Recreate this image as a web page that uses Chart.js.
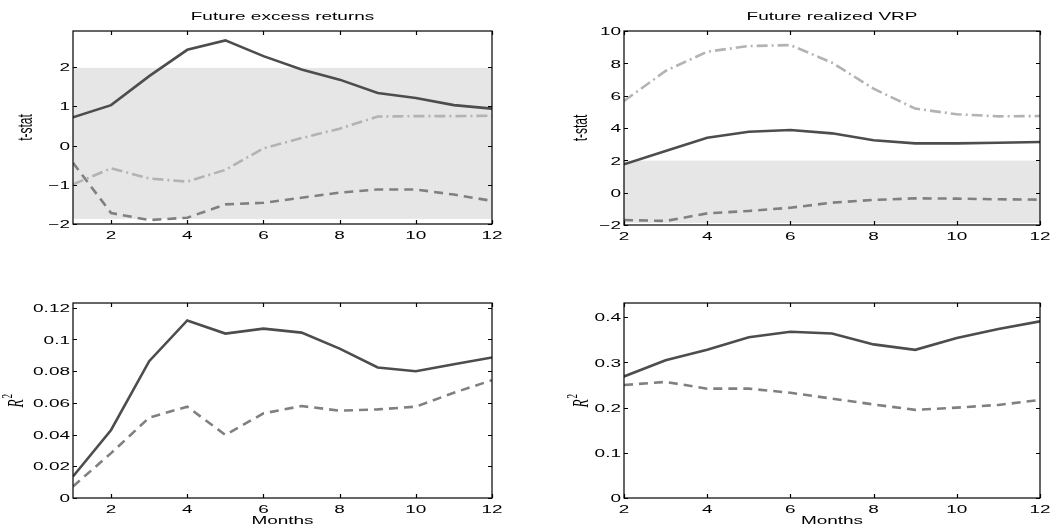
<!DOCTYPE html>
<html>
<head>
<meta charset="utf-8">
<script src="https://cdn.jsdelivr.net/npm/chart.js@4/dist/chart.umd.min.js"></script>
<style>
  html, body { margin: 0; padding: 0; background: #fff; }
  #wrap { position: relative; width: 1052px; height: 527px; }
  #wrap canvas { position: absolute; left: 0; top: 0; }
</style>
</head>
<body>
<div id="wrap">
  <canvas id="c1" width="1052" height="527"></canvas>
  <canvas id="c2" width="1052" height="527"></canvas>
  <canvas id="c3" width="1052" height="527"></canvas>
  <canvas id="c4" width="1052" height="527"></canvas>
</div>
<script>
// horizons
const monthsA = [1, 2, 3, 4, 5, 6, 7, 8, 9, 10, 11, 12];
const monthsB = [2, 3, 4, 5, 6, 7, 8, 9, 10, 11, 12];

// t-stats, future excess returns
const exSolid   = [0.72, 1.03, 1.77, 2.44, 2.68, 2.28, 1.94, 1.68, 1.34, 1.21, 1.03, 0.94];
const exDashDot = [-0.99, -0.58, -0.84, -0.92, -0.62, -0.07, 0.19, 0.43, 0.74, 0.75, 0.75, 0.76];
const exDashed  = [-0.44, -1.72, -1.90, -1.84, -1.50, -1.46, -1.33, -1.20, -1.12, -1.12, -1.25, -1.41];

// t-stats, future realized VRP
const vrpSolid   = [1.75, 2.58, 3.40, 3.77, 3.88, 3.67, 3.24, 3.05, 3.05, 3.09, 3.13];
const vrpDashDot = [5.67, 7.53, 8.72, 9.07, 9.13, 8.04, 6.43, 5.20, 4.85, 4.72, 4.74];
const vrpDashed  = [-1.69, -1.75, -1.28, -1.13, -0.93, -0.62, -0.45, -0.35, -0.37, -0.41, -0.43];

// R^2
const exR2Solid   = [0.0136, 0.0429, 0.0863, 0.1120, 0.1037, 0.1068, 0.1043, 0.0942, 0.0823, 0.0800, 0.0844, 0.0886];
const exR2Dashed  = [0.0073, 0.0283, 0.0507, 0.0576, 0.0398, 0.0534, 0.0580, 0.0551, 0.0559, 0.0576, 0.0664, 0.0743];
const vrpR2Solid  = [0.269, 0.305, 0.328, 0.356, 0.368, 0.364, 0.340, 0.328, 0.354, 0.374, 0.391];
const vrpR2Dashed = [0.250, 0.257, 0.242, 0.242, 0.233, 0.220, 0.207, 0.195, 0.200, 0.206, 0.217];

// tick values
const xTicks = [2, 4, 6, 8, 10, 12];
const yTicksExT = [-2, -1, 0, 1, 2];
const yTicksVrpT = [-2, 0, 2, 4, 6, 8, 10];
const yTicksExR2 = [0, 0.02, 0.04, 0.06, 0.08, 0.1, 0.12];
const yTicksVrpR2 = [0, 0.1, 0.2, 0.3, 0.4];

// insignificance band
const band = [-1.87, 1.98];

const SX = 1.65;            // the original figure's text is stretched sideways
const FONT = '11.5px "Liberation Sans", Arial, sans-serif';

function txt(ctx, s, x, y, align, base, font, rot) {
  ctx.save();
  ctx.translate(x, y);
  ctx.scale(SX, 1);
  if (rot) ctx.rotate(-Math.PI / 2);
  ctx.font = font || FONT;
  ctx.textAlign = align;
  ctx.textBaseline = base;
  ctx.fillStyle = '#000';
  ctx.fillText(s, 0, 0);
  ctx.restore();
}

function fmt(v) {
  return String(+v.toFixed(2)).replace('-', '\u2212');
}

const framePlugin = {
  id: 'frame',
  beforeDatasetsDraw(chart, args, o) {
    if (!o.band) return;
    const { ctx, chartArea: a } = chart;
    const y = chart.scales.y;
    const top = Math.max(y.getPixelForValue(o.band[1]), a.top);
    const bot = Math.min(y.getPixelForValue(o.band[0]), a.bottom);
    ctx.save();
    ctx.fillStyle = '#e6e6e6';
    ctx.fillRect(a.left, top, a.right - a.left, bot - top);
    ctx.restore();
  },
  afterDraw(chart, args, o) {
    const { ctx, chartArea: a } = chart;
    const xs = chart.scales.x, ys = chart.scales.y;
    ctx.save();
    ctx.strokeStyle = '#000';
    ctx.lineWidth = 1.2;
    ctx.strokeRect(a.left, a.top, a.right - a.left, a.bottom - a.top);
    ctx.beginPath();
    for (const v of o.xTicks) {
      const px = Math.round(xs.getPixelForValue(v)) + 0.5;
      ctx.moveTo(px, a.bottom); ctx.lineTo(px, a.bottom - 4);
      ctx.moveTo(px, a.top); ctx.lineTo(px, a.top + 4);
    }
    for (const v of o.yTicks) {
      const py = Math.round(ys.getPixelForValue(v)) + 0.5;
      ctx.moveTo(a.left, py); ctx.lineTo(a.left + 4, py);
      ctx.moveTo(a.right, py); ctx.lineTo(a.right - 4, py);
    }
    ctx.stroke();
    ctx.restore();

    for (const v of o.xTicks) txt(ctx, String(v), xs.getPixelForValue(v), a.bottom + 12, 'center', 'middle');
    for (const v of o.yTicks) txt(ctx, fmt(v), a.left - 3, ys.getPixelForValue(v) + 1, 'right', 'middle');

    const cx = (a.left + a.right) / 2;
    const cy = (a.top + a.bottom) / 2;
    if (o.title) txt(ctx, o.title, cx, 20, 'center', 'alphabetic');
    if (o.xLabel) txt(ctx, o.xLabel, cx, 524, 'center', 'alphabetic');
    if (o.yLabel === 'R2') {
      ctx.save();
      ctx.translate(o.yLabelX, cy);
      ctx.scale(SX, 1);
      ctx.rotate(-Math.PI / 2);
      ctx.fillStyle = '#000';
      ctx.textBaseline = 'middle';
      ctx.font = 'italic 13.5px "Liberation Serif", "DejaVu Serif", serif';
      const w = ctx.measureText('R').width;
      ctx.textAlign = 'left';
      ctx.fillText('R', -w / 2 - 3, 1);
      ctx.font = '9px "Liberation Serif", "DejaVu Serif", serif';
      ctx.fillText('2', w / 2 - 2, -4);
      ctx.restore();
    } else if (o.yLabel) {
      txt(ctx, o.yLabel, o.yLabelX, cy, 'center', 'middle', '12px "Liberation Sans", Arial, sans-serif', true);
    }
  }
};

function lineDs(xv, yv, kind) {
  const styles = {
    solid:   { color: '#4d4d4d', dash: [] },
    dashed:  { color: '#808080', dash: [9, 6] },
    dashdot: { color: '#b3b3b3', dash: [11, 4, 2, 4] }
  };
  const s = styles[kind];
  return {
    data: xv.map((x, i) => ({ x: x, y: yv[i] })),
    borderColor: s.color,
    backgroundColor: s.color,
    borderDash: s.dash,
    borderWidth: 2.6,
    pointRadius: 0,
    tension: 0,
    fill: false
  };
}

function makePanel(id, box, xr, yr, datasets, frame) {
  new Chart(document.getElementById(id), {
    type: 'line',
    data: { datasets: datasets },
    options: {
      responsive: false,
      animation: false,
      events: [],
      layout: { padding: { left: 0, right: 1052 - box.right, top: box.top, bottom: 0 } },
      scales: {
        x: {
          type: 'linear', min: xr[0], max: xr[1],
          ticks: { display: false }, grid: { display: false, drawTicks: false }, border: { display: false },
          afterFit(s) { s.height = 527 - box.bottom; }
        },
        y: {
          type: 'linear', min: yr[0], max: yr[1],
          ticks: { display: false }, grid: { display: false, drawTicks: false }, border: { display: false },
          afterFit(s) { s.width = box.left; }
        }
      },
      plugins: { legend: { display: false }, tooltip: { enabled: false }, frame: frame }
    },
    plugins: [framePlugin]
  });
}

makePanel('c1', { left: 73, right: 492, top: 31, bottom: 224 }, [1, 12], [-2.0, 2.92], [
  lineDs(monthsA, exDashDot, 'dashdot'),
  lineDs(monthsA, exDashed, 'dashed'),
  lineDs(monthsA, exSolid, 'solid')
], { band: band, xTicks: xTicks, yTicks: yTicksExT, title: 'Future excess returns', yLabel: 't-stat', yLabelX: 27 });

makePanel('c2', { left: 624, right: 1040, top: 31, bottom: 225 }, [2, 12], [-2, 10], [
  lineDs(monthsB, vrpDashDot, 'dashdot'),
  lineDs(monthsB, vrpDashed, 'dashed'),
  lineDs(monthsB, vrpSolid, 'solid')
], { band: band, xTicks: xTicks, yTicks: yTicksVrpT, title: 'Future realized VRP', yLabel: 't-stat', yLabelX: 582 });

makePanel('c3', { left: 73, right: 492, top: 303, bottom: 498 }, [1, 12], [0, 0.123], [
  lineDs(monthsA, exR2Dashed, 'dashed'),
  lineDs(monthsA, exR2Solid, 'solid')
], { xTicks: xTicks, yTicks: yTicksExR2, xLabel: 'Months', yLabel: 'R2', yLabelX: 15 });

makePanel('c4', { left: 624, right: 1040, top: 303, bottom: 498 }, [2, 12], [0, 0.4316], [
  lineDs(monthsB, vrpR2Dashed, 'dashed'),
  lineDs(monthsB, vrpR2Solid, 'solid')
], { xTicks: xTicks, yTicks: yTicksVrpR2, xLabel: 'Months', yLabel: 'R2', yLabelX: 580 });
</script>
</body>
</html>
